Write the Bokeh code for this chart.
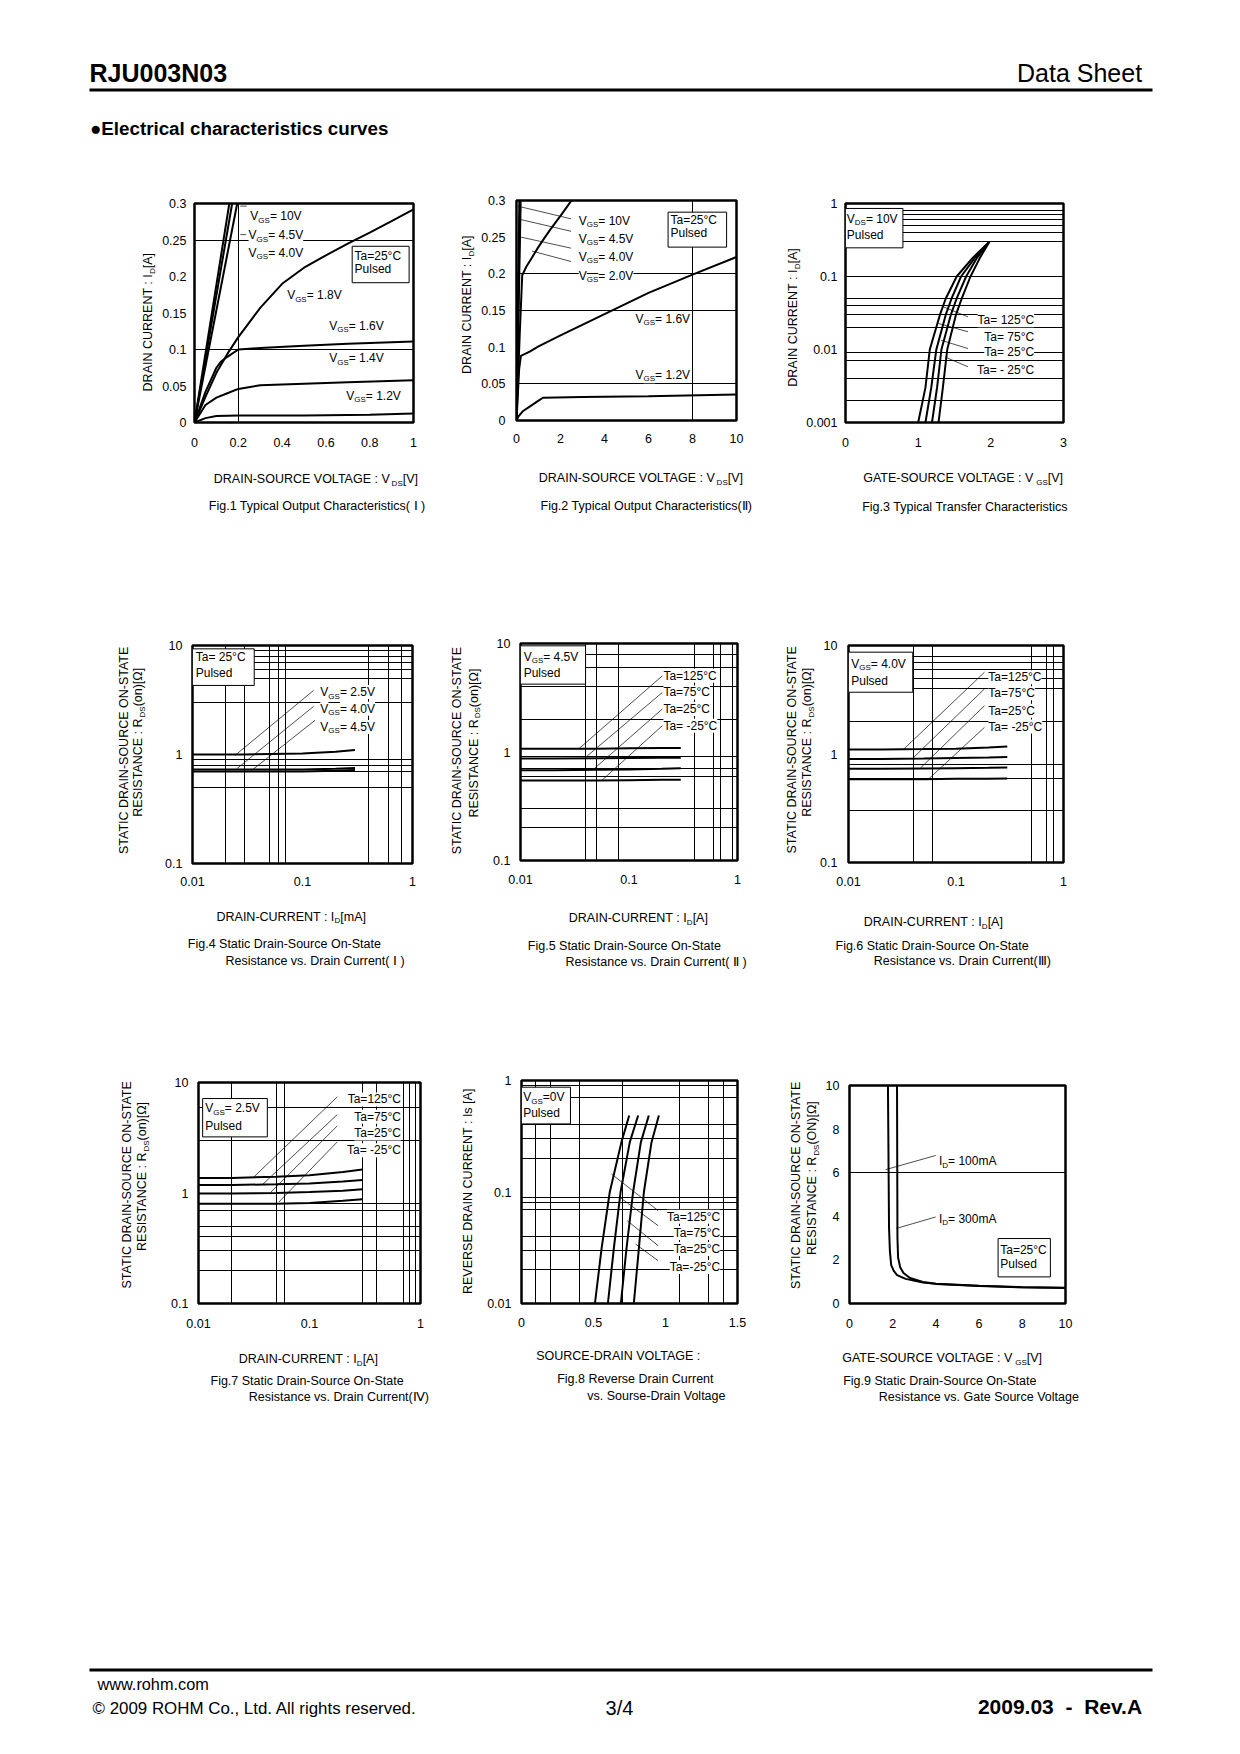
import math
import re
from bokeh.plotting import figure
from bokeh.models import Range1d, FixedTicker, Label
from bokeh.layouts import column, row
from bokeh.embed import file_html
from bokeh.resources import INLINE

# ======================= DATA =======================
# Fig.1  Typical Output Characteristics (I)   VDS [V] -> ID [A]
F1_VDS_10V = [0, 0.159]
F1_ID_10V = [0, 0.30]
F1_VDS_45V = [0, 0.172]
F1_ID_45V = [0, 0.30]
F1_VDS_40V = [0, 0.195]
F1_ID_40V = [0, 0.30]
F1_VDS_18V = [0, 0.05, 0.1, 0.15, 0.2, 0.3, 0.4, 0.5, 0.6, 0.7, 0.8, 0.9, 1.0]
F1_ID_18V = [0, 0.035, 0.068, 0.094, 0.117, 0.157, 0.19, 0.212, 0.229, 0.245, 0.26, 0.276, 0.292]
F1_VDS_16V = [0, 0.05, 0.1, 0.12, 0.15, 0.2, 0.3, 0.5, 0.7, 0.9, 1.0]
F1_ID_16V = [0, 0.042, 0.075, 0.083, 0.09, 0.1, 0.102, 0.105, 0.108, 0.11, 0.111]
F1_VDS_14V = [0, 0.05, 0.1, 0.15, 0.2, 0.3, 0.5, 0.7, 1.0]
F1_ID_14V = [0, 0.024, 0.034, 0.04, 0.046, 0.051, 0.053, 0.055, 0.058]
F1_VDS_12V = [0, 0.05, 0.1, 0.2, 0.5, 0.8, 1.0]
F1_ID_12V = [0, 0.006, 0.009, 0.0095, 0.0095, 0.0105, 0.0122]

# Fig.2  Typical Output Characteristics (II)
F2_VDS_10V = [0, 0.13]
F2_ID_10V = [0, 0.30]
F2_VDS_45V = [0, 0.16]
F2_ID_45V = [0, 0.30]
F2_VDS_40V = [0, 0.19]
F2_ID_40V = [0, 0.30]
F2_VDS_20V = [0, 0.15, 0.26, 0.45, 0.7, 0.94, 1.25, 1.55, 2.0, 2.5]
F2_ID_20V = [0, 0.12, 0.198, 0.21, 0.222, 0.234, 0.248, 0.261, 0.279, 0.30]
F2_VDS_16V = [0, 0.12, 0.2, 0.6, 1, 2, 4, 6, 8, 10]
F2_ID_16V = [0, 0.07, 0.088, 0.094, 0.101, 0.116, 0.145, 0.174, 0.199, 0.223]
F2_VDS_12V = [0, 0.1, 0.3, 0.6, 0.9, 1.2, 3, 6, 10]
F2_ID_12V = [0, 0.006, 0.013, 0.019, 0.025, 0.031, 0.032, 0.033, 0.0355]

# Fig.3  Typical Transfer Characteristics   VGS [V] -> ID [A]
F3_ID = [0.001, 0.003, 0.01, 0.03, 0.05, 0.1, 0.18, 0.3]
F3_VGS_125 = [1.00, 1.10, 1.16, 1.30, 1.38, 1.53, 1.75, 1.98]
F3_VGS_75 = [1.10, 1.18, 1.25, 1.38, 1.46, 1.59, 1.78, 1.98]
F3_VGS_25 = [1.19, 1.26, 1.32, 1.45, 1.53, 1.66, 1.81, 1.98]
F3_VGS_M25 = [1.28, 1.34, 1.40, 1.52, 1.60, 1.72, 1.85, 1.98]

# Fig.4  RDS(on) vs ID (I)
F4_ID = [0.01, 0.03, 0.1, 0.2, 0.3]
F4_R_25V = [1.0, 1.0, 1.02, 1.06, 1.1]
F4_R_40V = [0.73, 0.73, 0.73, 0.74, 0.75]
F4_R_45V = [0.70, 0.70, 0.70, 0.71, 0.72]

# Fig.5  RDS(on) vs ID (II)  VGS=4.5V
F5_ID = [0.01, 0.02, 0.05, 0.1, 0.2, 0.3]
F5_R_125 = [1.07, 1.07, 1.07, 1.08, 1.09, 1.09]
F5_R_75 = [0.87, 0.87, 0.875, 0.88, 0.885, 0.885]
F5_R_25 = [0.68, 0.68, 0.685, 0.69, 0.70, 0.71]
F5_R_M25 = [0.545, 0.545, 0.545, 0.55, 0.555, 0.555]

# Fig.6  RDS(on) vs ID (III)  VGS=4.0V
F6_ID = [0.01, 0.02, 0.05, 0.1, 0.2, 0.3]
F6_R_125 = [1.1, 1.1, 1.11, 1.12, 1.15, 1.17]
F6_R_75 = [0.9, 0.9, 0.91, 0.92, 0.93, 0.94]
F6_R_25 = [0.73, 0.73, 0.735, 0.74, 0.745, 0.75]
F6_R_M25 = [0.585, 0.585, 0.585, 0.59, 0.59, 0.595]

# Fig.7  RDS(on) vs ID (IV)  VGS=2.5V
F7_ID = [0.01, 0.02, 0.05, 0.1, 0.2, 0.3]
F7_R_125 = [1.37, 1.37, 1.40, 1.45, 1.55, 1.63]
F7_R_75 = [1.18, 1.18, 1.20, 1.22, 1.27, 1.31]
F7_R_25 = [0.99, 0.99, 1.00, 1.02, 1.05, 1.08]
F7_R_M25 = [0.80, 0.80, 0.80, 0.81, 0.85, 0.88]

# Fig.8  Reverse drain current vs VSD
F8_IS = [0.01, 0.031, 0.1, 0.28, 0.485]
F8_VSD_125 = [0.51, 0.556, 0.613, 0.694, 0.748]
F8_VSD_75 = [0.60, 0.641, 0.688, 0.752, 0.81]
F8_VSD_25 = [0.69, 0.729, 0.775, 0.829, 0.884]
F8_VSD_M25 = [0.78, 0.815, 0.85, 0.903, 0.954]

# Fig.9  RDS(on) vs VGS
F9_VGS_100 = [1.78, 1.83, 1.87, 1.93, 2.05, 2.2, 2.6, 3.4, 4.0, 6.0, 8.0, 10.0]
F9_R_100 = [10, 3.5, 2.4, 1.76, 1.5, 1.3, 1.13, 0.96, 0.9, 0.8, 0.74, 0.71]
F9_VGS_300 = [2.20, 2.22, 2.25, 2.35, 2.5, 2.8, 3.4, 4.0, 6.0, 8.0, 10.0]
F9_R_300 = [10, 3.0, 2.1, 1.65, 1.4, 1.17, 0.99, 0.91, 0.81, 0.75, 0.72]

# Tick values / labels
LIN_ID_TICKS = [0, 0.05, 0.1, 0.15, 0.2, 0.25, 0.3]
LIN_ID_LABELS = ["0", "0.05", "0.1", "0.15", "0.2", "0.25", "0.3"]
F1_X_TICKS = [0, 0.2, 0.4, 0.6, 0.8, 1.0]
F1_X_LABELS = ["0", "0.2", "0.4", "0.6", "0.8", "1"]
F2_X_TICKS = [0, 2, 4, 6, 8, 10]
F2_X_LABELS = ["0", "2", "4", "6", "8", "10"]
F3_X_TICKS = [0, 1, 2, 3]
F3_X_LABELS = ["0", "1", "2", "3"]
F3_Y_TICKS = [0.001, 0.01, 0.1, 1]
F3_Y_LABELS = ["0.001", "0.01", "0.1", "1"]
LOG_ID_TICKS = [0.01, 0.1, 1]
LOG_ID_LABELS = ["0.01", "0.1", "1"]
LOG_R_TICKS = [0.1, 1, 10]
LOG_R_LABELS = ["0.1", "1", "10"]
F8_X_TICKS = [0, 0.5, 1.0, 1.5]
F8_X_LABELS = ["0", "0.5", "1", "1.5"]
F8_Y_TICKS = [0.01, 0.1, 1]
F8_Y_LABELS = ["0.01", "0.1", "1"]
F9_TICKS = [0, 2, 4, 6, 8, 10]
F9_LABELS = ["0", "2", "4", "6", "8", "10"]

# ======================= STYLE HELPERS =======================
FONT = "Liberation Sans"
FS = 12.5      # outside texts / ticks
FI = 12.0      # annotations inside plots
SUB = 8.0

AW = {' ': 278, '!': 278, '(': 333, ')': 333, '+': 584, ',': 278, '-': 333, '.': 278, '/': 278,
      ':': 278, '=': 584, '[': 278, ']': 278, '°': 400, 'Ω': 768, '©': 737,
      'A': 667, 'B': 667, 'C': 722, 'D': 722, 'E': 667, 'F': 611, 'G': 778, 'H': 722, 'I': 278,
      'J': 500, 'K': 667, 'L': 556, 'M': 833, 'N': 722, 'O': 778, 'P': 667, 'Q': 778, 'R': 722,
      'S': 667, 'T': 611, 'U': 722, 'V': 667, 'W': 944, 'X': 667, 'Y': 667, 'Z': 611,
      'a': 556, 'b': 556, 'c': 500, 'd': 556, 'e': 556, 'f': 278, 'g': 556, 'h': 556, 'i': 222,
      'j': 222, 'k': 500, 'l': 222, 'm': 833, 'n': 556, 'o': 556, 'p': 556, 'q': 556, 'r': 333,
      's': 500, 't': 278, 'u': 556, 'v': 500, 'w': 722, 'x': 500, 'y': 500, 'z': 500}


def tw(s, size):
    return sum(AW.get(c, 556) for c in s) * size / 1000.0


def parse(s):
    parts = re.split(r"_\{([^}]*)\}", s)
    return [(t, i % 2 == 1) for i, t in enumerate(parts) if t]


def rich(p, x, y, s, size=FS, align="left", angle=0.0, bg=None):
    """Text with subscripts; (x, y) is the left/centre/right end at the text's middle."""
    segs = parse(s)
    ws = [tw(t, SUB if sub else size) for t, sub in segs]
    tot = sum(ws)
    along = {"left": 0.0, "center": -tot / 2.0, "right": -tot}[align]
    for (t, sub), w in zip(segs, ws):
        down = (0.3465 * (size - SUB) + 0.22 * size) if sub else 0.0
        if angle:
            dx, dy = down, along
        else:
            dx, dy = along, -down
        kw = {}
        if bg:
            kw = dict(background_fill_color=bg, background_fill_alpha=1.0)
        p.add_layout(Label(x=x, y=y, text=t, x_offset=dx, y_offset=dy, angle=angle,
                           text_align="left", text_baseline="middle", text_font=FONT,
                           text_font_size=f"{SUB if sub else size}px", text_color="black", **kw))
        along += w


def text_fig(x0, x1, y0, y1):
    """A blank panel whose coordinates are page pixels (used for labels around the plots)."""
    p = figure(width=x1 - x0, height=y1 - y0, x_range=Range1d(x0, x1), y_range=Range1d(y1, y0),
               x_axis_type=None, y_axis_type=None, output_backend="svg", toolbar_location=None,
               min_border=0, outline_line_color=None, frame_align=False)
    p.background_fill_color = "white"
    p.border_fill_color = "white"
    return p


def chart(cellbox, frame, xsplit, xr, yr, xlog, ylog, xt, xtl, yt, ytl, xg, yg, xso, yso):
    cl, cr, bt, bb = cellbox
    L, R, T, B = frame
    ysplit = B + 36
    p = figure(width=cr - xsplit, height=ysplit - bt, x_range=Range1d(*xr), y_range=Range1d(*yr),
               x_axis_type="log" if xlog else "linear", y_axis_type="log" if ylog else "linear",
               output_backend="svg", toolbar_location=None, frame_align=False,
               min_border_left=L - xsplit, min_border_right=cr - R,
               min_border_top=T - bt, min_border_bottom=ysplit - B)
    p.outline_line_color = "black"
    p.outline_line_width = 2.5
    p.background_fill_color = "white"
    p.border_fill_color = "white"
    for ax, ticks, labs, so in ((p.xaxis[0], xt, xtl, xso), (p.yaxis[0], yt, ytl, yso)):
        ax.ticker = FixedTicker(ticks=ticks)
        ax.major_label_overrides = dict(zip(ticks, labs))
        ax.axis_line_color = None
        ax.major_tick_line_color = None
        ax.minor_tick_line_color = None
        ax.major_tick_out = 0
        ax.major_tick_in = 0
        ax.major_label_standoff = so
        ax.major_label_text_font = FONT
        ax.major_label_text_font_size = f"{FS}px"
        ax.major_label_text_color = "black"
    for grid, ticks in ((p.xgrid, xg), (p.ygrid, yg)):
        if ticks:
            grid.ticker = FixedTicker(ticks=ticks)
            grid.grid_line_color = "black"
            grid.grid_line_width = 1
            grid.grid_line_alpha = 1.0
        else:
            grid.visible = False
    left = text_fig(cl, xsplit, bt, bb)
    below = text_fig(xsplit, cr, ysplit, bb)
    lay = row(left, column(p, below))
    return p, left, below, lay


def curve(p, x, y, w=2.0):
    p.line(x, y, line_color="black", line_width=w)


def leaders(p, segs):
    p.segment(x0=[s[0] for s in segs], y0=[s[1] for s in segs],
              x1=[s[2] for s in segs], y1=[s[3] for s in segs],
              line_color="black", line_width=0.7)


def box(p, l, r, t, b):
    p.quad(left=[l], right=[r], top=[t], bottom=[b], fill_color="white",
           line_color="black", line_width=1)


def inside(p, items, bg="white"):
    for x, y, s, al in items:
        rich(p, x, y, s, size=FI, align=al, bg=bg)


ROT = math.pi / 2
YL_ID = "DRAIN CURRENT : I_{D}[A]"
YL_R1 = "STATIC DRAIN-SOURCE ON-STATE"
YL_R2 = "RESISTANCE : R_{DS}(on)[Ω]"

# page cells: (left, right, top, bottom)
C = {1: (0, 445, 175, 540), 2: (445, 770, 175, 540), 3: (770, 1232, 175, 540),
     4: (0, 445, 540, 990), 5: (445, 770, 540, 990), 6: (770, 1232, 540, 990),
     7: (0, 445, 990, 1420), 8: (445, 770, 990, 1420), 9: (770, 1232, 990, 1420)}

# ======================= FIG 1 =======================
p1, l1, b1, c1 = chart(C[1], (194, 413, 203, 422), 158, (0, 1), (0, 0.3), False, False,
                       F1_X_TICKS, F1_X_LABELS, LIN_ID_TICKS, LIN_ID_LABELS, [0.2], [0.1, 0.25], 15, 8)
for x, y in ((F1_VDS_10V, F1_ID_10V), (F1_VDS_45V, F1_ID_45V), (F1_VDS_40V, F1_ID_40V),
             (F1_VDS_18V, F1_ID_18V), (F1_VDS_16V, F1_ID_16V), (F1_VDS_14V, F1_ID_14V),
             (F1_VDS_12V, F1_ID_12V)):
    curve(p1, x, y)
leaders(p1, [(0.209, 0.2964, 0.238, 0.2964), (0.209, 0.2574, 0.236, 0.2574)])
box(p1, 0.72, 0.98, 0.2414, 0.1915)
inside(p1, [(0.255, 0.2826, "V_{GS}= 10V", "left"), (0.247, 0.2565, "V_{GS}= 4.5V", "left"),
            (0.247, 0.2327, "V_{GS}= 4.0V", "left"), (0.423, 0.174, "V_{GS}= 1.8V", "left"),
            (0.615, 0.1328, "V_{GS}= 1.6V", "left"), (0.615, 0.088, "V_{GS}= 1.4V", "left"),
            (0.693, 0.0366, "V_{GS}= 1.2V", "left")])
inside(p1, [(0.731, 0.2277, "Ta=25°C", "left"), (0.731, 0.2107, "Pulsed", "left")], bg=None)
rich(l1, 147.8, 321.7, YL_ID, align="center", angle=ROT)
rich(b1, 213.3, 478.3, "DRAIN-SOURCE VOLTAGE : V_{DS}[V]")
rich(b1, 208.3, 505.5, "Fig.1 Typical Output Characteristics( Ⅰ )")

# ======================= FIG 2 =======================
p2, l2, b2, c2 = chart(C[2], (516, 736, 200, 420), 477, (0, 10), (0, 0.3), False, False,
                       F2_X_TICKS, F2_X_LABELS, LIN_ID_TICKS, LIN_ID_LABELS, [8], [0.05, 0.15, 0.2], 13, 11)
for x, y in ((F2_VDS_10V, F2_ID_10V), (F2_VDS_45V, F2_ID_45V), (F2_VDS_40V, F2_ID_40V),
             (F2_VDS_20V, F2_ID_20V), (F2_VDS_16V, F2_ID_16V), (F2_VDS_12V, F2_ID_12V)):
    curve(p2, x, y)
leaders(p2, [(0.06, 0.2923, 2.48, 0.275), (0.06, 0.275, 2.48, 0.258),
             (0.06, 0.251, 2.48, 0.235), (0.71, 0.231, 2.48, 0.2168)])
box(p2, 6.89, 9.55, 0.2841, 0.2364)
inside(p2, [(2.83, 0.2727, "V_{GS}= 10V", "left"), (2.83, 0.2477, "V_{GS}= 4.5V", "left"),
            (2.83, 0.2236, "V_{GS}= 4.0V", "left"), (2.83, 0.1977, "V_{GS}= 2.0V", "left"),
            (5.41, 0.1386, "V_{GS}= 1.6V", "left"), (5.41, 0.0623, "V_{GS}= 1.2V", "left")])
inside(p2, [(7.0, 0.2736, "Ta=25°C", "left"), (7.0, 0.2555, "Pulsed", "left")], bg=None)
rich(l2, 466.8, 304.2, YL_ID, align="center", angle=ROT)
rich(b2, 538.3, 477.7, "DRAIN-SOURCE VOLTAGE : V_{DS}[V]")
rich(b2, 540.0, 505.0, "Fig.2 Typical Output Characteristics(Ⅱ)")

# ======================= FIG 3 =======================
p3, l3, b3, c3 = chart(C[3], (843, 1063, 203, 422), 803, (0, 3), (0.001, 1), False, True,
                       F3_X_TICKS, F3_X_LABELS, F3_Y_TICKS, F3_Y_LABELS, [],
                       [0.002, 0.004, 0.007, 0.009, 0.02, 0.03, 0.04, 0.05, 0.1, 0.3, 0.4, 0.5, 0.6, 0.7, 0.8],
                       15, 8)
for x in (F3_VGS_125, F3_VGS_75, F3_VGS_25, F3_VGS_M25):
    curve(p3, x, F3_ID)
leaders(p3, [(1.346, 0.0384, 1.686, 0.028), (1.278, 0.0227, 1.686, 0.0175),
             (1.314, 0.0134, 1.686, 0.0103), (1.368, 0.0079, 1.686, 0.0058)])
box(p3, 0.0, 0.79, 0.855, 0.247)
inside(p3, [(2.614, 0.0252, "Ta= 125°C", "right"), (2.614, 0.0149, "Ta= 75°C", "right"),
            (2.614, 0.0093, "Ta= 25°C", "right"), (2.614, 0.0053, "Ta= - 25°C", "right")])
inside(p3, [(0.018, 0.623, "V_{DS}= 10V", "left"), (0.018, 0.376, "Pulsed", "left")], bg=None)
rich(l3, 792.5, 317.0, YL_ID, align="center", angle=ROT)
rich(b3, 862.7, 477.7, "GATE-SOURCE VOLTAGE : V_{GS}[V]")
rich(b3, 861.7, 506.5, "Fig.3  Typical Transfer Characteristics")

# ======================= FIG 4 =======================
p4, l4, b4, c4 = chart(C[4], (192, 412, 645, 863), 155, (0.01, 1), (0.1, 10), True, True,
                       LOG_ID_TICKS, LOG_ID_LABELS, LOG_R_TICKS, LOG_R_LABELS,
                       [0.02, 0.03, 0.05, 0.06, 0.07, 0.4, 0.6, 0.8],
                       [0.5, 0.7, 0.8, 0.9, 3, 5, 6, 7, 8, 9], 13, 10)
for y in (F4_R_25V, F4_R_40V, F4_R_45V):
    curve(p4, F4_ID, y)
leaders(p4, [(0.0244, 0.983, 0.126, 3.87), (0.0253, 0.741, 0.126, 2.76), (0.0346, 0.716, 0.130, 2.06)])
box(p4, 0.01, 0.0364, 9.32, 4.30)
inside(p4, [(0.1453, 3.74, "V_{GS}= 2.5V", "left"), (0.1453, 2.63, "V_{GS}= 4.0V", "left"),
            (0.1453, 1.79, "V_{GS}= 4.5V", "left")])
inside(p4, [(0.0107, 7.82, "Ta= 25°C", "left"), (0.0107, 5.62, "Pulsed", "left")], bg=None)
rich(l4, 123.3, 748.0, YL_R1, align="center", angle=ROT)
rich(l4, 137.3, 741.7, YL_R2, align="center", angle=ROT)
rich(b4, 216.0, 916.0, "DRAIN-CURRENT : I_{D}[mA]")
rich(b4, 187.3, 943.3, "Fig.4  Static Drain-Source On-State")
rich(b4, 225.0, 960.0, "Resistance vs. Drain Current( Ⅰ )")

# ======================= FIG 5 =======================
p5, l5, b5, c5 = chart(C[5], (520, 737, 643, 860), 484, (0.01, 1), (0.1, 10), True, True,
                       LOG_ID_TICKS, LOG_ID_LABELS, LOG_R_TICKS, LOG_R_LABELS,
                       [0.04, 0.05, 0.08, 0.4, 0.6, 0.7, 0.9],
                       [0.2, 0.3, 0.6, 0.7, 0.9, 2, 4, 6, 8], 14, 10)
for y in (F5_R_125, F5_R_75, F5_R_25, F5_R_M25):
    curve(p5, F5_ID, y)
leaders(p5, [(0.0345, 1.07, 0.203, 5.04), (0.0398, 0.893, 0.203, 3.54),
             (0.0475, 0.698, 0.203, 2.49), (0.0567, 0.552, 0.203, 1.75)])
box(p5, 0.01, 0.0398, 9.52, 4.22)
inside(p5, [(0.2077, 5.04, "Ta=125°C", "left"), (0.2077, 3.54, "Ta=75°C", "left"),
            (0.2077, 2.49, "Ta=25°C", "left"), (0.2077, 1.75, "Ta= -25°C", "left")])
inside(p5, [(0.0107, 7.54, "V_{GS}= 4.5V", "left"), (0.0107, 5.3, "Pulsed", "left")], bg=None)
rich(l5, 456.7, 748.3, YL_R1, align="center", angle=ROT)
rich(l5, 473.0, 742.5, YL_R2, align="center", angle=ROT)
rich(b5, 568.3, 917.3, "DRAIN-CURRENT : I_{D}[A]")
rich(b5, 527.3, 945.0, "Fig.5  Static Drain-Source On-State")
rich(b5, 565.0, 961.7, "Resistance vs. Drain Current( Ⅱ )")

# ======================= FIG 6 =======================
p6, l6, b6, c6 = chart(C[6], (846, 1063, 645, 862), 817, (0.01, 1), (0.1, 10), True, True,
                       LOG_ID_TICKS, LOG_ID_LABELS, LOG_R_TICKS, LOG_R_LABELS,
                       [0.04, 0.06, 0.5, 0.7, 0.8],
                       [0.3, 0.6, 0.8, 2, 4, 5, 6, 7, 8], 14, 11)
for y in (F6_R_125, F6_R_75, F6_R_25, F6_R_M25):
    curve(p6, F6_ID, y)
leaders(p6, [(0.0327, 1.11, 0.184, 5.67), (0.039, 0.9, 0.184, 3.98),
             (0.0466, 0.74, 0.184, 2.79), (0.0556, 0.588, 0.184, 1.76)])
box(p6, 0.01, 0.0396, 8.68, 3.71)
inside(p6, [(0.2, 5.1, "Ta=125°C", "left"), (0.2, 3.63, "Ta=75°C", "left"),
            (0.2, 2.51, "Ta=25°C", "left"), (0.2, 1.79, "Ta= -25°C", "left")])
inside(p6, [(0.0106, 6.77, "V_{GS}= 4.0V", "left"), (0.0106, 4.75, "Pulsed", "left")], bg=None)
rich(l6, 791.7, 747.5, YL_R1, align="center", angle=ROT)
rich(l6, 806.2, 741.7, YL_R2, align="center", angle=ROT)
rich(b6, 863.3, 921.7, "DRAIN-CURRENT : I_{D}[A]")
rich(b6, 835.0, 945.0, "Fig.6  Static Drain-Source On-State")
rich(b6, 873.3, 960.0, "Resistance vs. Drain Current(Ⅲ)")

# ======================= FIG 7 =======================
p7, l7, b7, c7 = chart(C[7], (198, 420, 1082, 1303), 158, (0.01, 1), (0.1, 10), True, True,
                       LOG_ID_TICKS, LOG_ID_LABELS, LOG_R_TICKS, LOG_R_LABELS,
                       [0.02, 0.05, 0.06, 0.3, 0.4, 0.7, 0.8, 0.9],
                       [0.2, 0.3, 0.4, 0.5, 0.7, 0.8, 3, 6], 15, 10)
for y in (F7_R_125, F7_R_75, F7_R_25, F7_R_M25):
    curve(p7, F7_ID, y)
leaders(p7, [(0.0316, 1.4, 0.178, 7.42), (0.0376, 1.19, 0.178, 5.13),
             (0.0441, 1.0, 0.178, 4.05), (0.0531, 0.83, 0.178, 2.9)])
box(p7, 0.0109, 0.0417, 7.16, 3.22)
inside(p7, [(0.684, 7.02, "Ta=125°C", "right"), (0.684, 4.89, "Ta=75°C", "right"),
            (0.684, 3.46, "Ta=25°C", "right"), (0.684, 2.44, "Ta= -25°C", "right")])
inside(p7, [(0.0115, 5.82, "V_{GS}= 2.5V", "left"), (0.0115, 4.03, "Pulsed", "left")], bg=None)
rich(l7, 126.7, 1182.5, YL_R1, align="center", angle=ROT)
rich(l7, 141.7, 1175.8, YL_R2, align="center", angle=ROT)
rich(b7, 238.3, 1358.3, "DRAIN-CURRENT : I_{D}[A]")
rich(b7, 210.0, 1380.0, "Fig.7  Static Drain-Source On-State")
rich(b7, 248.3, 1396.7, "Resistance vs. Drain Current(Ⅳ)")

# ======================= FIG 8 =======================
p8, l8, b8, c8 = chart(C[8], (521, 737, 1080, 1303), 478, (0, 1.5), (0.01, 1), False, True,
                       F8_X_TICKS, F8_X_LABELS, F8_Y_TICKS, F8_Y_LABELS,
                       [0.1, 0.2, 0.4, 0.7, 1.1, 1.3, 1.4],
                       [0.02, 0.03, 0.04, 0.07, 0.08, 0.09, 0.2, 0.3, 0.4, 0.7, 0.9], 14, 10)
for x in (F8_VSD_125, F8_VSD_75, F8_VSD_25, F8_VSD_M25):
    curve(p8, x, F8_IS)
leaders(p8, [(0.625, 0.145, 0.949, 0.068), (0.683, 0.0896, 0.949, 0.0499),
             (0.734, 0.0553, 0.949, 0.033), (0.792, 0.0341, 0.949, 0.0242)])
box(p8, 0.0, 0.34, 0.871, 0.408)
inside(p8, [(1.389, 0.06, "Ta=125°C", "right"), (1.389, 0.0428, "Ta=75°C", "right"),
            (1.389, 0.0308, "Ta=25°C", "right"), (1.389, 0.0213, "Ta=-25°C", "right")])
inside(p8, [(0.0116, 0.709, "V_{GS}=0V", "left"), (0.0116, 0.509, "Pulsed", "left")], bg=None)
rich(l8, 467.0, 1190.7, "REVERSE DRAIN CURRENT : Is [A]", align="center", angle=ROT)
rich(b8, 535.7, 1355.7, "SOURCE-DRAIN VOLTAGE :")
rich(b8, 556.7, 1378.3, "Fig.8 Reverse Drain Current")
rich(b8, 586.7, 1395.0, "vs. Sourse-Drain Voltage")

# ======================= FIG 9 =======================
p9, l9, b9, c9 = chart(C[9], (846, 1065, 1085, 1303), 822, (0, 10), (0, 10), False, False,
                       F9_TICKS, F9_LABELS, F9_TICKS, F9_LABELS, [], [6], 15, 10)
curve(p9, F9_VGS_100, F9_R_100)
curve(p9, F9_VGS_300, F9_R_300)
leaders(p9, [(1.67, 6.14, 3.99, 6.79), (2.16, 3.44, 3.99, 3.97)])
box(p9, 6.88, 9.3, 2.98, 1.22)
inside(p9, [(4.14, 6.52, "I_{D}= 100mA", "left"), (4.14, 3.89, "I_{D}= 300mA", "left")])
inside(p9, [(6.98, 2.47, "Ta=25°C", "left"), (6.98, 1.79, "Pulsed", "left")], bg=None)
rich(l9, 795.0, 1183.0, YL_R1, align="center", angle=ROT)
rich(l9, 811.5, 1177.5, "RESISTANCE : R_{DS}(ON)[Ω]", align="center", angle=ROT)
rich(b9, 841.7, 1357.7, "GATE-SOURCE VOLTAGE : V_{GS}[V]")
rich(b9, 842.7, 1380.0, "Fig.9  Static Drain-Source On-State")
rich(b9, 878.3, 1396.7, "Resistance vs. Gate Source Voltage")


# ======================= HEADER / FOOTER =======================
def ptext(p, x, y, text, size, align="left", bold=False):
    p.add_layout(Label(x=x, y=y, text=text, text_align=align, text_baseline="middle",
                       text_font=FONT, text_font_size=f"{size}px",
                       text_font_style="bold" if bold else "normal", text_color="black"))


hdr = text_fig(0, 1232, 0, 175)
hdr.segment(x0=[89], y0=[89.5], x1=[1152], y1=[89.5], line_color="black", line_width=3)
ptext(hdr, 89, 72.7, "RJU003N03", 25, bold=True)
ptext(hdr, 1141.6, 72.7, "Data Sheet", 25, align="right")
ptext(hdr, 89.4, 127.5, "●Electrical characteristics curves", 18.8, bold=True)

ftr = text_fig(0, 1232, 1420, 1746)
ftr.segment(x0=[89], y0=[1669.5], x1=[1152], y1=[1669.5], line_color="black", line_width=3)
ptext(ftr, 97, 1683, "www.rohm.com", 16.3)
ptext(ftr, 92, 1708, "© 2009 ROHM Co., Ltd. All rights reserved.", 16.9)
ptext(ftr, 619, 1707, "3/4", 20, align="center")
ptext(ftr, 1141.6, 1705.5, "2009.03\u00a0 -\u00a0 Rev.A", 21, align="right", bold=True)

layout = column(hdr, row(c1, c2, c3), row(c4, c5, c6), row(c7, c8, c9), ftr)
open("out.html", "w").write(file_html(layout, INLINE))
